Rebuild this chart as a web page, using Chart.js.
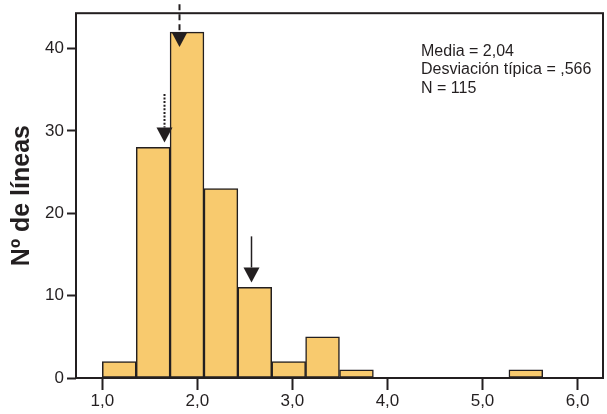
<!DOCTYPE html>
<html>
<head>
<meta charset="utf-8">
<script src="https://cdn.jsdelivr.net/npm/chart.js@4.4.1/dist/chart.umd.min.js"></script>
<style>
  html, body { margin: 0; padding: 0; background: #fff; }
  #wrap { width: 607px; height: 414px; }
</style>
</head>
<body>
<div id="wrap"><canvas id="histo"></canvas></div>
<script>
// bin midpoints (bin width ~0.356) and counts per bin, empty bins left out
const binMids = [1.178, 1.535, 1.891, 2.248, 2.604, 2.961, 3.317, 3.674, 5.456];
const counts = [2, 28, 42, 23, 11, 2, 5, 1, 1];

const xTicks = [1, 2, 3, 4, 5, 6];
const yTicks = [0, 10, 20, 30, 40];

// arrows: x position, where the shaft starts and where the tip lands (counts)
const arrowX = [1.65, 1.81, 2.565];
const arrowFrom = [34.5, 45.4, 17.2];
const arrowTo = [28.6, 40.2, 11.6];

const statLines = ['Media = 2,04', 'Desviación típica = ,566', 'N = 115'];

const ink = '#231f20';

const framePlugin = {
  id: 'frame',
  afterDraw(chart) {
    const { ctx, chartArea: a } = chart;
    ctx.save();
    ctx.strokeStyle = ink;
    ctx.lineWidth = 2;
    ctx.strokeRect(a.left, a.top, a.right - a.left, a.bottom - a.top);
    ctx.restore();
  }
};

const arrowPlugin = {
  id: 'arrows',
  afterDatasetsDraw(chart) {
    const { ctx, scales: { x, y } } = chart;
    const dashes = [[2, 1.6], [6, 4], []];
    const widths = [2, 2, 1.5];
    ctx.save();
    arrowX.forEach((v, i) => {
      const px = Math.round(x.getPixelForValue(v)) + 0.5;
      const y0 = y.getPixelForValue(arrowFrom[i]);
      const tip = y.getPixelForValue(arrowTo[i]);
      const head = 15;
      ctx.strokeStyle = ink;
      ctx.lineWidth = widths[i];
      ctx.setLineDash(dashes[i]);
      ctx.beginPath();
      ctx.moveTo(px, y0);
      ctx.lineTo(px, tip - head);
      ctx.stroke();
      ctx.setLineDash([]);
      ctx.fillStyle = ink;
      ctx.beginPath();
      ctx.moveTo(px - 8, tip - head);
      ctx.lineTo(px + 8, tip - head);
      ctx.lineTo(px, tip);
      ctx.closePath();
      ctx.fill();
    });
    ctx.restore();
  }
};

const statsPlugin = {
  id: 'stats',
  afterDraw(chart) {
    const { ctx } = chart;
    ctx.save();
    ctx.fillStyle = ink;
    ctx.font = '16px "Liberation Sans", Arial, sans-serif';
    ctx.textBaseline = 'middle';
    statLines.forEach((t, i) => ctx.fillText(t, 421, 51.5 + i * 18.3));
    ctx.restore();
  }
};

const tickFont = { family: '"Liberation Sans", Arial, sans-serif', size: 17 };

new Chart(document.getElementById('histo'), {
  type: 'bar',
  data: {
    datasets: [{
      data: binMids.map((m, i) => ({ x: m, y: counts[i] })),
      backgroundColor: '#f8ca6e',
      borderColor: ink,
      borderWidth: 1.5,
      borderSkipped: false,
      barPercentage: 1,
      categoryPercentage: 1
    }]
  },
  options: {
    responsive: true,
    maintainAspectRatio: false,
    animation: false,
    layout: { padding: { top: 8, right: 4, left: 0, bottom: 0 } },
    plugins: { legend: { display: false }, tooltip: { enabled: false } },
    scales: {
      x: {
        type: 'linear',
        offset: false,
        min: 0.723,
        max: 6.268,
        afterBuildTicks: s => { s.ticks = xTicks.map(v => ({ value: v })); },
        afterFit: s => { s.height = 36; },
        border: { display: false },
        grid: { offset: false, drawOnChartArea: false, drawTicks: true, tickLength: 12, tickWidth: 2, tickColor: ink },
        ticks: {
          color: ink,
          font: tickFont,
          padding: 1,
          maxRotation: 0,
          callback: v => v.toFixed(1).replace('.', ',')
        }
      },
      y: {
        min: 0,
        max: 44.3,
        afterBuildTicks: s => { s.ticks = yTicks.map(v => ({ value: v })); },
        afterFit: s => { s.width = 76; },
        border: { display: false },
        grid: { drawOnChartArea: false, drawTicks: true, tickLength: 9, tickWidth: 2, tickColor: ink },
        ticks: { color: ink, font: tickFont, padding: 3 },
        title: {
          display: true,
          text: 'Nº de líneas',
          color: ink,
          font: { family: '"Liberation Sans", Arial, sans-serif', size: 25, weight: 'bold' },
          padding: { top: 7, bottom: 0 }
        }
      }
    }
  },
  plugins: [framePlugin, arrowPlugin, statsPlugin]
});
</script>
</body>
</html>
